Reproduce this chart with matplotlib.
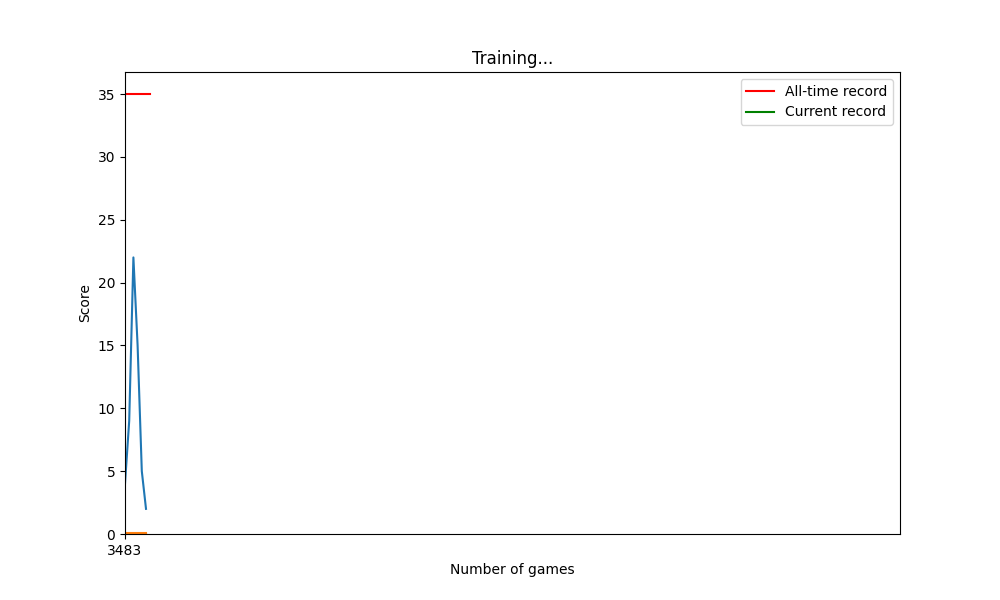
import matplotlib
matplotlib.use("Agg")
import matplotlib.pyplot as plt

games = [0, 1, 2, 3, 4, 5]
scores = [4, 9, 22, 15, 5, 2]
mean_scores = [0.05, 0.05, 0.05, 0.05, 0.05, 0.05]
record_x = [0, 6]
alltime_record = [35, 35]
current_record = [0, 0, 0, 0, 0, 0]
tick_pos = [0]
tick_labels = ["3483"]

fig, ax = plt.subplots(figsize=(10, 6), dpi=100)
ax.plot(record_x, alltime_record, color="red", label="All-time record")
ax.plot(games, current_record, color="green", label="Current record")
ax.plot(games, scores, color="#1f77b4")
ax.plot(games, mean_scores, color="#ff7f0e")
ax.set_xlim(0, 184.5)
ax.set_ylim(0, 36.75)
ax.set_xticks(tick_pos)
ax.set_xticklabels(tick_labels)
ax.set_title("Training...")
ax.set_xlabel("Number of games")
ax.set_ylabel("Score")
ax.legend(loc="upper right")
fig.savefig("out.png")
